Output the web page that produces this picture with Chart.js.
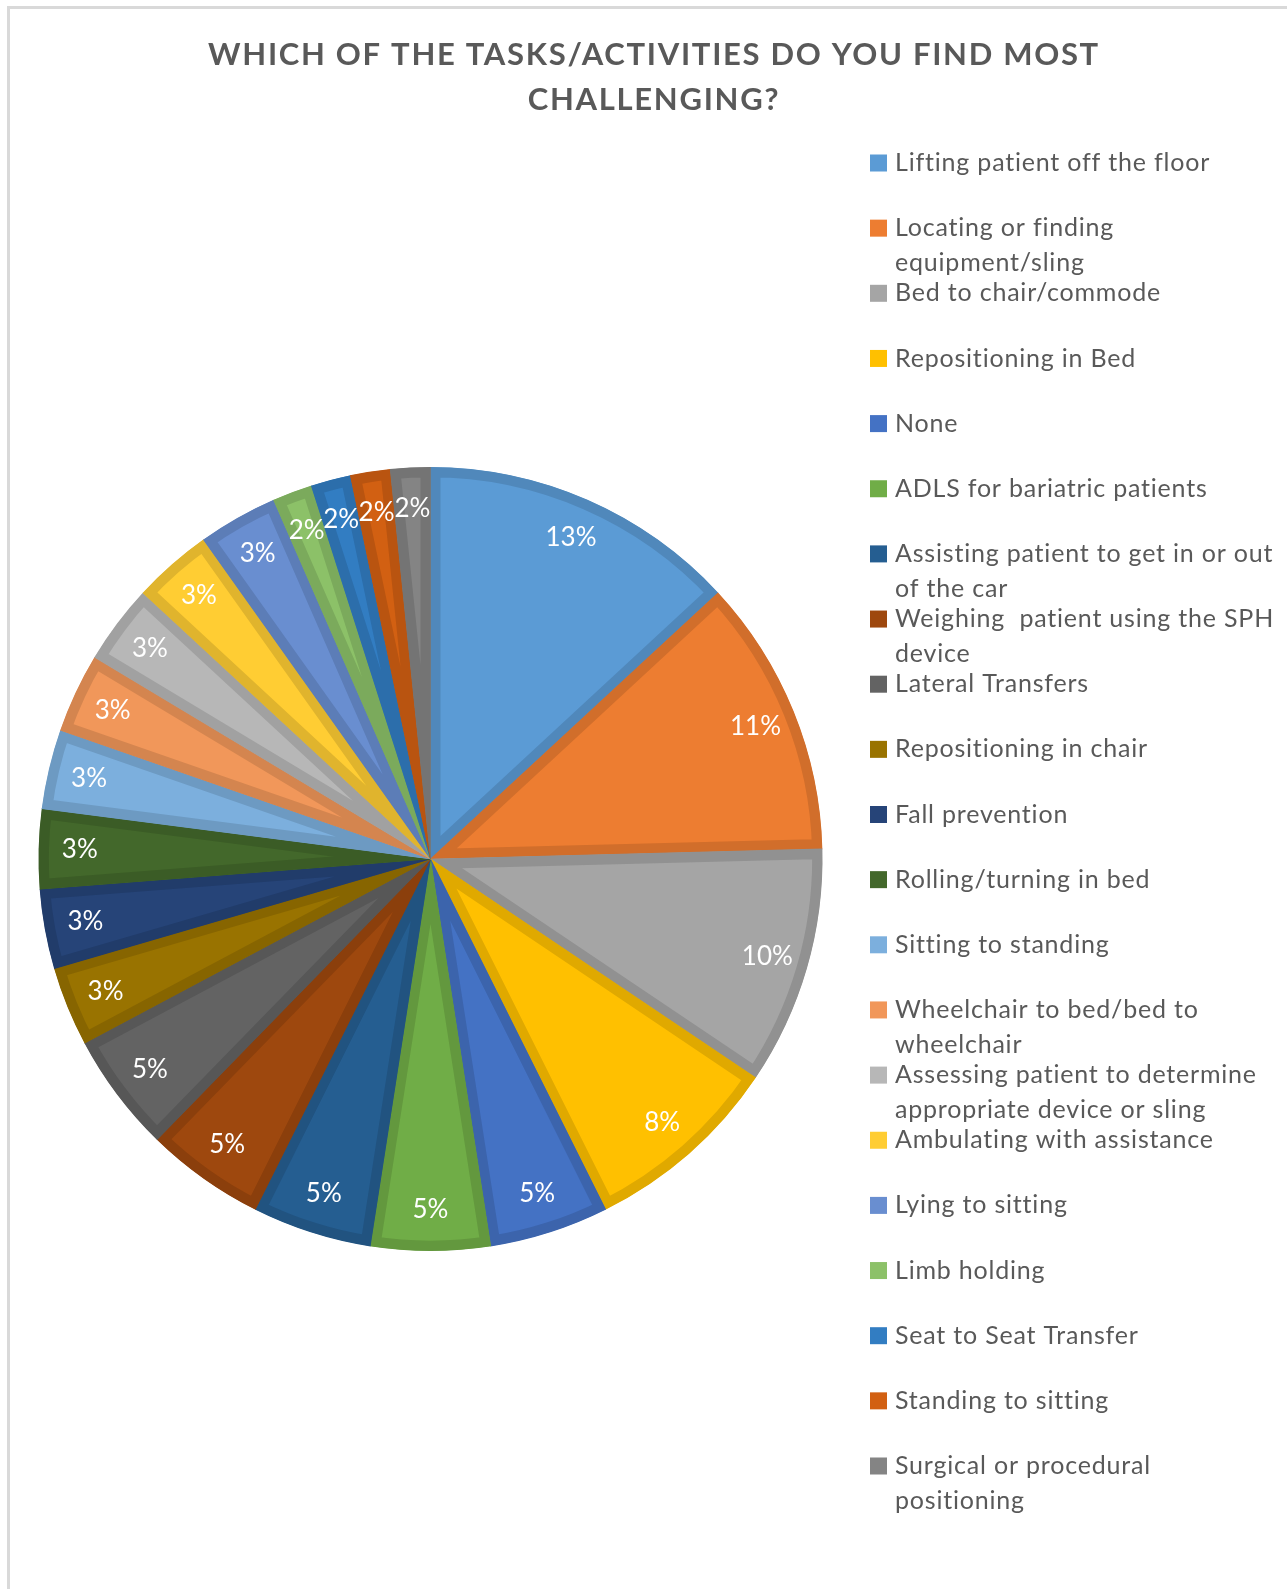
<!DOCTYPE html>
<html>
<head>
<meta charset="utf-8">
<title>Most challenging tasks</title>
<script src="https://cdn.jsdelivr.net/npm/chart.js@4.4.1/dist/chart.umd.min.js"></script>
<style>
  html, body { margin: 0; padding: 0; background: #fff; }
  canvas { display: block; }
</style>
</head>
<body>
<canvas id="pie" width="1287" height="1589"></canvas>
<script>
// chart data (counts of responses, n = 61)
const titleLines = ['WHICH OF THE TASKS/ACTIVITIES DO YOU FIND MOST', 'CHALLENGING?'];
const categories = [
  'Lifting patient off the floor',
  ['Locating or finding', 'equipment/sling'],
  'Bed to chair/commode',
  'Repositioning in Bed',
  'None',
  'ADLS for bariatric patients',
  ['Assisting patient to get in or out', 'of the car'],
  ['Weighing  patient using the SPH', 'device'],
  'Lateral Transfers',
  'Repositioning in chair',
  'Fall prevention',
  'Rolling/turning in bed',
  'Sitting to standing',
  ['Wheelchair to bed/bed to', 'wheelchair'],
  ['Assessing patient to determine', 'appropriate device or sling'],
  'Ambulating with assistance',
  'Lying to sitting',
  'Limb holding',
  'Seat to Seat Transfer',
  'Standing to sitting',
  ['Surgical or procedural', 'positioning']
];
const responses = [8, 7, 6, 5, 3, 3, 3, 3, 3, 2, 2, 2, 2, 2, 2, 2, 2, 1, 1, 1, 1];
const sliceColors = [
  '#5B9BD5', '#ED7D31', '#A5A5A5', '#FFC000', '#4472C4', '#70AD47',
  '#255E91', '#9E480E', '#636363', '#997300', '#264478', '#43682B',
  '#7CAFDD', '#F1975A', '#B7B7B7', '#FFCD33', '#698ED0', '#8CC168',
  '#327DC2', '#D26012', '#848484'
];

const total = responses.reduce((a, b) => a + b, 0);
const FONT = 'Lato, "Open Sans", sans-serif';
const TEXT_GREY = '#595959';

// darker edge of each slice
function shade(hex, f) {
  const n = parseInt(hex.slice(1), 16);
  const r = Math.round(((n >> 16) & 255) * f);
  const g = Math.round(((n >> 8) & 255) * f);
  const b = Math.round((n & 255) * f);
  return 'rgb(' + r + ',' + g + ',' + b + ')';
}

// frame + title + legend drawn on the canvas
const decorations = {
  id: 'decorations',
  beforeDraw(chart) {
    const ctx = chart.ctx;
    ctx.save();
    ctx.strokeStyle = '#D9D9D9';
    ctx.lineWidth = 3;
    ctx.beginPath();
    ctx.moveTo(8.5, chart.height);
    ctx.lineTo(8.5, 7.5);
    ctx.lineTo(chart.width, 7.5);
    ctx.stroke();
    ctx.restore();
  },
  afterDraw(chart) {
    const ctx = chart.ctx;
    ctx.save();
    // title
    ctx.fillStyle = TEXT_GREY;
    ctx.font = 'bold 31px ' + FONT;
    ctx.letterSpacing = '1.7px';
    ctx.textAlign = 'center';
    ctx.textBaseline = 'middle';
    titleLines.forEach((t, i) => ctx.fillText(t, 654, 55 + i * 44.5));
    // legend
    ctx.letterSpacing = '0.8px';
    ctx.font = '25px ' + FONT;
    ctx.textAlign = 'left';
    categories.forEach((lab, i) => {
      const y = 163 + i * 65.15;
      ctx.fillStyle = sliceColors[i];
      ctx.fillRect(870, y - 8.5, 17, 17);
      ctx.fillStyle = TEXT_GREY;
      const lines = Array.isArray(lab) ? lab : [lab];
      lines.forEach((l, k) => ctx.fillText(l, 895, y + k * 35));
    });
    ctx.restore();
  }
};

// percentage labels near the outer edge of each slice
const sliceLabels = {
  id: 'sliceLabels',
  afterDatasetsDraw(chart) {
    const ctx = chart.ctx;
    const meta = chart.getDatasetMeta(0);
    ctx.save();
    ctx.fillStyle = '#FFFFFF';
    ctx.font = '26px ' + FONT;
    ctx.textAlign = 'center';
    ctx.textBaseline = 'middle';
    meta.data.forEach((arc, i) => {
      const p = arc.getProps(['x', 'y', 'startAngle', 'endAngle', 'outerRadius'], true);
      const mid = (p.startAngle + p.endAngle) / 2;
      const r = p.outerRadius * 0.895;
      const pct = Math.round(responses[i] / total * 100) + '%';
      ctx.fillText(pct, p.x + Math.cos(mid) * r, p.y + Math.sin(mid) * r);
    });
    ctx.restore();
  }
};

new Chart(document.getElementById('pie'), {
  type: 'pie',
  data: {
    labels: categories,
    datasets: [{
      data: responses,
      backgroundColor: sliceColors,
      borderColor: sliceColors.map(c => shade(c, 0.88)),
      borderWidth: 10,
      borderAlign: 'inner',
      borderJoinStyle: 'miter',
      hoverOffset: 0,
      offset: 0
    }]
  },
  options: {
    responsive: false,
    animation: false,
    events: [],
    layout: {
      padding: { left: 38.5, top: 467, right: 464.5, bottom: 338 }
    },
    plugins: {
      legend: { display: false },
      title: { display: false },
      tooltip: { enabled: false }
    }
  },
  plugins: [decorations, sliceLabels]
});
</script>
</body>
</html>
